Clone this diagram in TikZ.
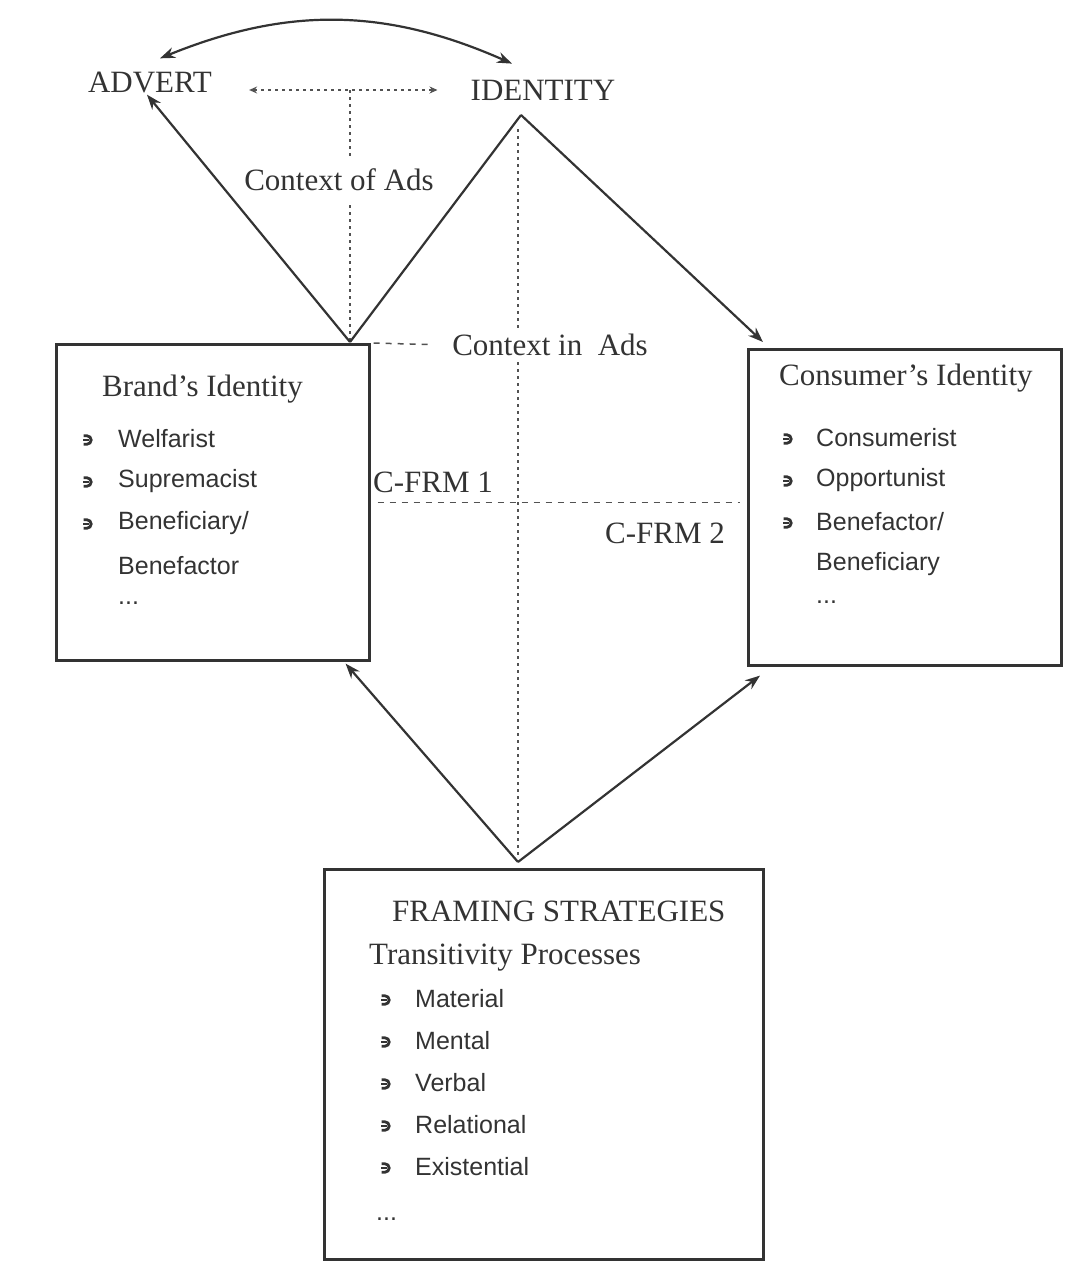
\documentclass[tikz,border=0pt]{standalone}
\usepackage{fontspec}
\setmainfont{Liberation Serif}
\setsansfont{Liberation Sans}
\usetikzlibrary{positioning,arrows.meta}
\definecolor{ink}{HTML}{333333}
\tikzset{
  line/.style={draw=ink, line width=2.2pt},
  arrow/.style={line, -{Stealth[length=15pt,width=11pt]}},
  dblarrow/.style={line, {Stealth[length=15pt,width=11pt]}-{Stealth[length=15pt,width=11pt]}},
  box/.style={draw=ink, line width=2.6pt, anchor=north west, inner sep=0pt},
  title/.style={font=\fontsize{31}{31}\selectfont, text=ink, inner sep=2pt},
  item/.style={font=\sffamily\fontsize{25}{25}\selectfont, text=ink, anchor=west, inner sep=0pt},
  dots/.style={draw=ink!85, line width=2.2pt, dash pattern=on 2.5pt off 4.5pt},
  dashline/.style={draw=ink!85, line width=1.5pt, dash pattern=on 6pt off 6pt},
  hook/.pic={
    \draw[ink, line width=2.8pt] (-3.5,-4.2) -- (0,-4.2) arc(-90:90:4.2) -- (-3.5,4.2);
    \fill[ink] (-4.5,-1.4) rectangle (2.2,1.4);
  }
}

\begin{document}
\begin{tikzpicture}[x=1pt,y=-1pt]
  \useasboundingbox (0,0) rectangle (1089,1272);

  % boxes
  \node[box, minimum width=313pt, minimum height=316pt] (brand) at (55,343) {};
  \node[box, minimum width=313pt, minimum height=316pt] (consumer) at (747,348) {};
  \node[box, minimum width=439pt, minimum height=390pt] (framing) at (323,868) {};

  % labels
  \node[title] (advert) at (150,82) {ADVERT};
  \node[title] (identity) at (543,90) {IDENTITY};
  \node[title] (ctxof) at (339,180) {Context of Ads};
  \node[title] (ctxin) at (550,345) {Context in\ \ Ads};
  \node[title] (cfrm1) at (433,482) {C-FRM 1};
  \node[title] (cfrm2) at (665,533) {C-FRM 2};
  \coordinate (vtx) at (350,342);
  \coordinate (apex) at (521,115);
  \coordinate (base) at (518,862);

  % brand's identity
  \node[title, anchor=west] (brandhead) at (100,389) {Brand’s Identity};
  \foreach \t [count=\i] in {Welfarist,Supremacist,Beneficiary/} {
    \pic at (87,398+42*\i) {hook};
    \node[item] (bi\i) at (118,397+42*\i) {\t};
  }
  \node[item] (bi4) at (118,566) {Benefactor};
  \node[item] (bi5) at (118,603) {...};

  % consumer's identity
  \node[title, anchor=west] (conshead) at (777,378) {Consumer’s Identity};
  \foreach \t [count=\i] in {Consumerist,Opportunist,Benefactor/} {
    \pic at (787,397+42*\i) {hook};
    \node[item] (ci\i) at (816,396+42*\i) {\t};
  }
  \node[item] (ci4) at (816,564) {Beneficiary};
  \node[item] (ci5) at (816,602) {...};

  % framing strategies
  \node[title, anchor=west] (framhead) at (390,911) {FRAMING STRATEGIES};
  \node[title, anchor=west] (transhead) at (367,958) {Transitivity Processes};
  \foreach \t [count=\i] in {Material,Mental,Verbal,Relational,Existential} {
    \pic at (385,958+42*\i) {hook};
    \node[item] (fi\i) at (415,957+42*\i) {\t};
  }
  \node[item] (fi6) at (376,1219) {...};

  % connectors
  \draw[dblarrow] ([xshift=10pt,yshift=11pt]advert.north) to[bend left=23] ([xshift=-31pt,yshift=14pt]identity.north);
  \draw[dots, {Stealth[length=8pt,width=7pt]}-{Stealth[length=8pt,width=7pt]}]
    ([xshift=35pt,yshift=-8pt]advert.east) -- ([xshift=-31pt]identity.west);
  \draw[dots] (vtx |- identity.west) -- ([yshift=10pt]vtx |- ctxof.north);
  \draw[dots] ([yshift=-12pt]vtx |- ctxof.south) -- (vtx);
  \draw[arrow] (vtx) -- ([xshift=-3pt]advert.south);
  \draw[line] (vtx) -- (apex);
  \draw[arrow] (apex) -- ([xshift=16pt,yshift=6pt]consumer.north west);
  \draw[dots] ([yshift=-14pt]base |- apex) -- ([yshift=2pt]base |- ctxin.north);
  \draw[dots] ([yshift=-4pt]base |- ctxin.south) -- ([yshift=6pt]base);
  \draw[dashline, shorten <=3pt, shorten >=18pt] (brand.north east) -- (ctxin.west);
  \draw[dashline] ([xshift=7pt]brand.east) -- ([xshift=-7pt]brand.east -| consumer.west);
  \draw[arrow] (base) -- ([xshift=-25pt,yshift=-2pt]brand.south east);
  \draw[arrow] (base) -- ([xshift=13pt,yshift=-9pt]consumer.south west);
\end{tikzpicture}
\end{document}
